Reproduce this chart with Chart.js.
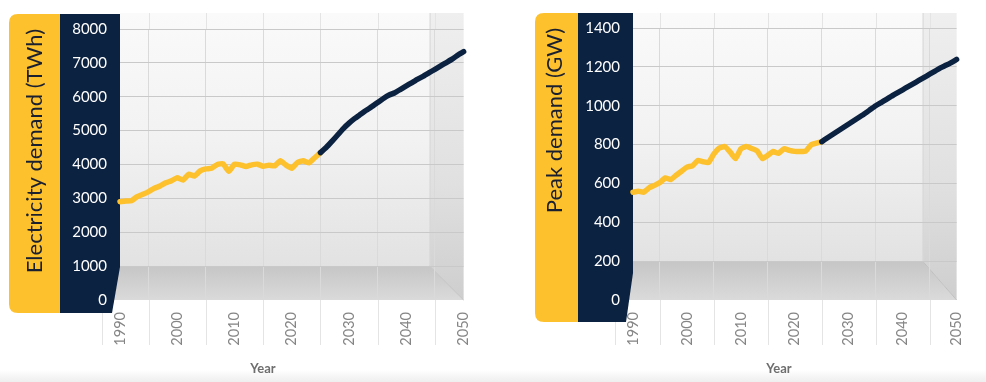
<!DOCTYPE html>
<html><head><meta charset="utf-8">
<script src="https://cdn.jsdelivr.net/npm/chart.js@4.4.1/dist/chart.umd.min.js"></script>
<style>
html,body{margin:0;padding:0;background:#fff;width:986px;height:382px;overflow:hidden;}
#c1{position:absolute;left:0;top:0}
#c2{position:absolute;left:493px;top:0}
#band{position:absolute;left:0;top:370px;width:986px;height:12px;background:linear-gradient(#ffffff,#eeeeee)}
</style></head><body>
<div id="band"></div>
<canvas id="c1" width="493" height="382"></canvas>
<canvas id="c2" width="493" height="382"></canvas>
<script>
// ---- data ----
const histYears = [1990,1991,1992,1993,1994,1995,1996,1997,1998,1999,2000,2001,2002,2003,2004,2005,2006,2007,2008,2009,2010,2011,2012,2013,2014,2015,2016,2017,2018,2019,2020,2021,2022,2023,2024,2025];
const projYears = [2025,2026,2027,2028,2029,2030,2031,2032,2033,2034,2035,2036,2037,2038,2039,2040,2041,2042,2043,2044,2045,2046,2047,2048,2049,2050];
const energyHist = [2900,2920,2930,3050,3120,3200,3300,3365,3460,3520,3610,3540,3710,3660,3810,3870,3890,4000,4020,3800,4010,3990,3940,3990,4010,3950,3980,3960,4110,3980,3890,4060,4110,4050,4200,4350];
const energyProj = [4350,4500,4680,4870,5060,5220,5360,5480,5600,5710,5830,5950,6050,6120,6220,6320,6420,6520,6610,6710,6810,6910,7010,7110,7230,7330];
const peakHist = [555,560,555,578,590,605,628,620,642,663,684,690,718,712,708,752,782,790,762,728,778,790,780,768,728,745,764,755,778,770,765,764,766,798,807,815];
const peakProj = [815,834,852,870,888,906,924,942,960,980,1000,1016,1033,1050,1066,1082,1098,1114,1130,1146,1162,1178,1195,1208,1222,1238];
const xTickYears = [1990,2000,2010,2020,2030,2040,2050];
const energyTicks = [0,1000,2000,3000,4000,5000,6000,7000,8000];
const peakTicks = [0,200,400,600,800,1000,1200,1400];

const YELLOW = '#fdc12e';
const NAVY = '#0c2241';
Chart.defaults.font.family = 'Lato, "Open Sans", sans-serif';

const box3d = {
  id: 'box3d',
  beforeDraw(chart, args, o) {
    const {ctx, chartArea: a, scales: {x, y}} = chart;
    const floorBack = y.getPixelForValue(y.ticks[1].value);
    const sideL = a.right - o.sideW;
    ctx.save();
    // back wall
    let g = ctx.createLinearGradient(0, o.wallTop, 0, floorBack);
    g.addColorStop(0, '#fafafa'); g.addColorStop(0.5, '#f2f2f2'); g.addColorStop(1, '#e2e2e3');
    ctx.fillStyle = g;
    ctx.fillRect(a.left, o.wallTop, a.right - a.left, floorBack - o.wallTop);
    // side wall
    g = ctx.createLinearGradient(0, o.wallTop, 0, a.bottom);
    g.addColorStop(0, '#efefef'); g.addColorStop(0.6, '#e0e0e0'); g.addColorStop(1, '#cecece');
    ctx.fillStyle = g;
    ctx.beginPath();
    ctx.moveTo(sideL, o.wallTop); ctx.lineTo(a.right, o.wallTop); ctx.lineTo(a.right, a.bottom);
    ctx.lineTo(sideL, floorBack); ctx.closePath(); ctx.fill();
    // floor
    g = ctx.createLinearGradient(0, floorBack, 0, a.bottom);
    g.addColorStop(0, '#c6c6c7'); g.addColorStop(1, '#dadadb');
    ctx.fillStyle = g;
    ctx.beginPath();
    ctx.moveTo(a.left - 6, floorBack); ctx.lineTo(sideL, floorBack); ctx.lineTo(a.right, a.bottom);
    ctx.lineTo(a.left - 12, a.bottom); ctx.closePath(); ctx.fill();
    ctx.strokeStyle = '#c0c0c1'; ctx.lineWidth = 1;
    ctx.beginPath(); ctx.moveTo(sideL, floorBack); ctx.lineTo(a.right, a.bottom); ctx.stroke();
    ctx.strokeStyle = '#d7d7d8';
    ctx.beginPath(); ctx.moveTo(sideL + 0.5, o.wallTop); ctx.lineTo(sideL + 0.5, floorBack); ctx.stroke();
    // vertical line extensions
    ctx.strokeStyle = '#e4e4e4';
    const xs = [];
    for (let i = 1; i < x.ticks.length; i++) xs.push((x.getPixelForTick(i) + x.getPixelForTick(i - 1)) / 2);
    xs.unshift(a.left - 18);
    xs.forEach((px, i) => {
      ctx.beginPath();
      if (i > 0) { ctx.moveTo(Math.round(px) + 0.5, o.wallTop); ctx.lineTo(Math.round(px) + 0.5, a.top); }
      ctx.moveTo(Math.round(px) + 0.5, a.bottom); ctx.lineTo(Math.round(px) + 0.5, a.bottom + 45);
      ctx.stroke();
    });
    // yellow label box
    const r = 9;
    ctx.fillStyle = YELLOW;
    ctx.beginPath();
    ctx.moveTo(o.yl + r, o.top); ctx.lineTo(o.navyL, o.top); ctx.lineTo(o.navyL, o.bottom);
    ctx.lineTo(o.yl + r, o.bottom); ctx.quadraticCurveTo(o.yl, o.bottom, o.yl, o.bottom - r);
    ctx.lineTo(o.yl, o.top + r); ctx.quadraticCurveTo(o.yl, o.top, o.yl + r, o.top);
    ctx.closePath(); ctx.fill();
    // navy tick column
    ctx.fillStyle = NAVY;
    ctx.beginPath();
    ctx.moveTo(o.navyL, o.top); ctx.lineTo(a.left, o.top); ctx.lineTo(a.left, o.slantY);
    ctx.lineTo(o.slantX, o.bottom); ctx.lineTo(o.navyL, o.bottom); ctx.closePath(); ctx.fill();
    ctx.restore();
  }
};

function makeChart(id, cfg) {
  return new Chart(document.getElementById(id), {
    type: 'line',
    data: {
      datasets: [
        { data: projYears.map((yr, i) => ({x: yr, y: cfg.proj[i]})), borderColor: NAVY },
        { data: histYears.map((yr, i) => ({x: yr, y: cfg.hist[i]})), borderColor: YELLOW }
      ].map(d => Object.assign(d, {borderWidth: 5.5, pointRadius: 0, tension: 0.15, borderCapStyle: 'round', borderJoinStyle: 'round', fill: false, clip: 6}))
    },
    options: {
      responsive: false, animation: false, devicePixelRatio: 1,
      layout: { padding: cfg.pad },
      scales: {
        x: {
          type: 'linear', min: 1990, max: 2050,
          afterBuildTicks: s => { s.ticks = xTickYears.map(v => ({value: v})); },
          afterFit: s => { s.height = 61.2; },
          border: { display: false },
          grid: { offset: true, drawTicks: false, color: '#dadada' },
          ticks: { autoSkip: false, minRotation: 90, maxRotation: 90, padding: 12, color: '#858585', font: {size: 14.5}, callback: v => String(v) }
        },
        y: {
          min: 0, max: cfg.ticks[cfg.ticks.length - 1],
          afterBuildTicks: s => { s.ticks = cfg.ticks.map(v => ({value: v})); },
          afterFit: s => { s.width = cfg.yw; },
          border: { display: false },
          grid: { drawTicks: false, color: c => (c.tick && c.tick.value === 0) ? 'rgba(0,0,0,0)' : '#c9c9ca' },
          ticks: { padding: 13, color: '#ffffff', font: {size: 15}, callback: v => String(v) },
          title: { display: true, text: cfg.title, align: 'end', color: '#1b2030', font: {size: 22}, padding: {top: cfg.titlePad} }
        }
      },
      plugins: {
        legend: { display: false }, tooltip: { enabled: false },
        title: { display: true, position: 'bottom', text: 'Year', color: '#6e6e6e', font: {size: 13, weight: 'bold'}, padding: {top: 0, bottom: 5.2} },
        box3d: cfg.deco
      }
    },
    plugins: [box3d]
  });
}

makeChart('c1', {
  hist: energyHist, proj: energyProj, ticks: energyTicks, title: 'Electricity demand (TWh)',
  pad: {left: 62, right: 29, top: 29, bottom: 0}, yw: 58, titlePad: -40.2,
  deco: {wallTop: 13, sideW: 34, yl: 9, navyL: 60, top: 14, bottom: 313, slantY: 267, slantX: 112}
});
makeChart('c2', {
  hist: peakHist, proj: peakProj, ticks: peakTicks, title: 'Peak demand (GW)',
  pad: {left: 88, right: 9, top: 28, bottom: 0}, yw: 52, titlePad: -39.2,
  deco: {wallTop: 13, sideW: 34, yl: 42, navyL: 85, top: 13, bottom: 322, slantY: 273, slantX: 133}
});
</script>
</body></html>
